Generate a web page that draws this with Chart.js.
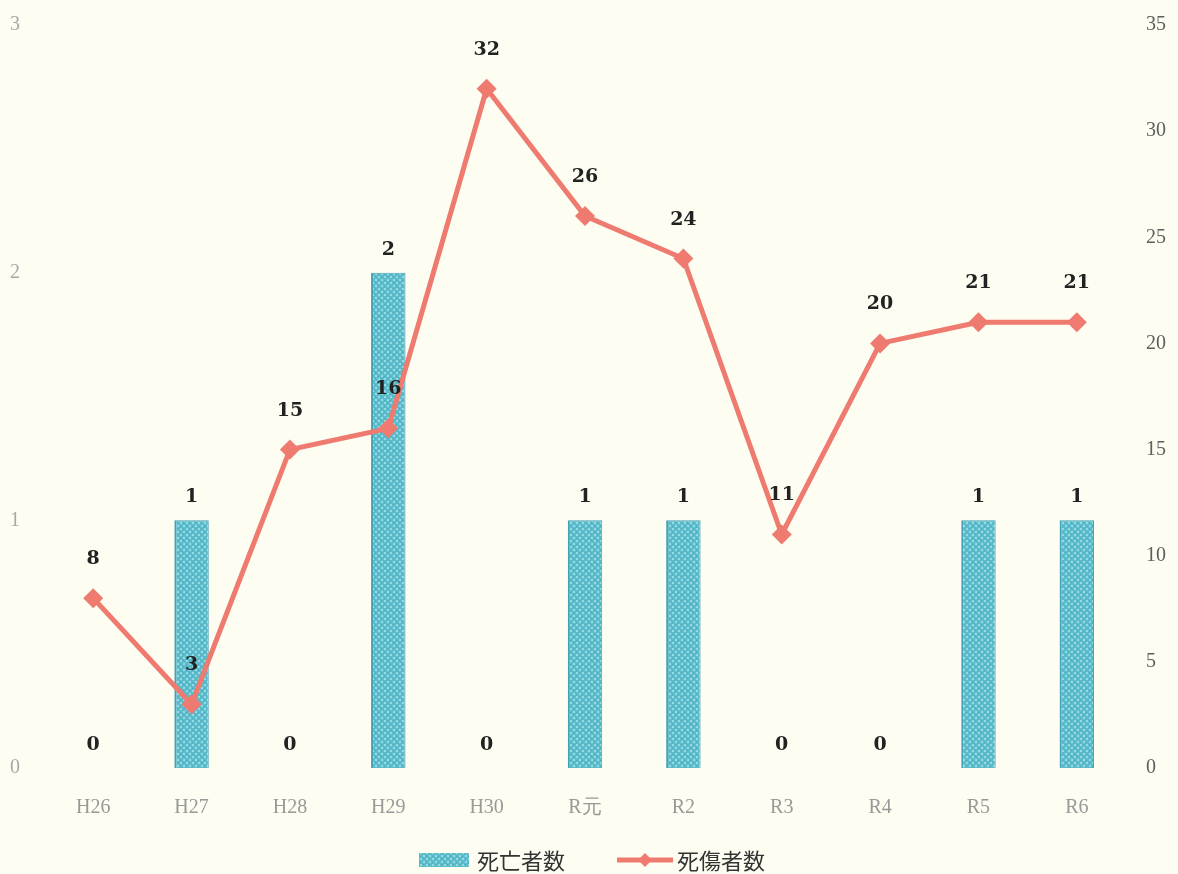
<!DOCTYPE html>
<html>
<head>
<meta charset="utf-8">
<script src="https://cdn.jsdelivr.net/npm/chart.js@4"></script>
<style>
  html, body { margin: 0; padding: 0; background: #fdfdf1; }
  #wrap { width: 1178px; height: 874px; }
</style>
</head>
<body>
<div id="wrap"><canvas id="chart" width="1178" height="874"></canvas></div>
<script>
'use strict';

// Fiscal years (Heisei / Reiwa)
var years = ['H26', 'H27', 'H28', 'H29', 'H30', 'R元', 'R2', 'R3', 'R4', 'R5', 'R6'];
// 死亡者数 (left axis)
var deaths = [0, 1, 0, 2, 0, 1, 1, 0, 0, 1, 1];
// 死傷者数 (right axis)
var casualties = [8, 3, 15, 16, 32, 26, 24, 11, 20, 21, 21];
// Legend entries, in the order they are shown
var legendNames = ['死亡者数', '死傷者数'];

var barColor = '#5bbccb';
var lineColor = '#ee7a70';
var labelFont = 'bold 19px "DejaVu Serif", "Liberation Serif", serif';
var legendFont = '22px "Noto Sans CJK JP", sans-serif';
var tickFont = { family: '"Liberation Serif", "DejaVu Serif", serif', size: 20 };

//
// Stippled fill used for the bars, like the printed screen tone.
//
function stipple(ctx) {
  var c = document.createElement('canvas');
  c.width = 6; c.height = 6;
  var g = c.getContext('2d');
  g.fillStyle = barColor;
  g.fillRect(0, 0, 6, 6);
  g.fillStyle = '#98d9e1';
  g.fillRect(0, 0, 2, 2);
  g.fillRect(3, 3, 2, 2);
  g.fillStyle = '#45a5ba';
  g.fillRect(3, 0, 1, 1);
  g.fillRect(0, 4, 1, 1);
  return (ctx || g).createPattern(c, 'repeat');
}

//
// Fix an axis to a width and drop the label overhang padding,
// so the plot area lands where the printed one does.
//
function fitY(width) {
  return function (scale) {
    scale.width = width;
    scale.paddingTop = 0;
    scale.paddingBottom = 0;
  };
}

//
// Value labels above every bar and every line point.
//
var valueLabels = {
  id: 'valueLabels',
  afterDatasetsDraw: function (chart) {
    var ctx = chart.ctx;
    ctx.save();
    ctx.font = labelFont;
    ctx.fillStyle = '#222';
    ctx.textAlign = 'center';
    ctx.textBaseline = 'alphabetic';
    chart.data.datasets.forEach(function (ds, i) {
      var meta = chart.getDatasetMeta(i);
      var lift = ds.type === 'line' ? 34 : 18;
      meta.data.forEach(function (el, j) {
        ctx.fillText(String(ds.data[j]), el.x, el.y - lift);
      });
    });
    ctx.restore();
  }
};

//
// Bottom legend: a toned bar swatch and a line with a diamond.
//
var swatchLegend = {
  id: 'swatchLegend',
  afterDraw: function (chart) {
    var ctx = chart.ctx
      , y = 860
      , barW = 50, lineW = 56;

    ctx.save();
    ctx.font = legendFont;
    var w0 = ctx.measureText(legendNames[0]).width
      , w1 = ctx.measureText(legendNames[1]).width
      , total = barW + 8 + w0 + 52 + lineW + 4 + w1
      , x = 592 - total / 2;

    ctx.fillStyle = stipple(ctx);
    ctx.fillRect(x, y - 7, barW, 14);
    ctx.fillStyle = '#333';
    ctx.textBaseline = 'middle';
    ctx.fillText(legendNames[0], x + barW + 8, y + 1);

    x += barW + 8 + w0 + 52;
    ctx.strokeStyle = lineColor;
    ctx.lineWidth = 5;
    ctx.beginPath();
    ctx.moveTo(x, y); ctx.lineTo(x + lineW, y);
    ctx.stroke();
    ctx.fillStyle = lineColor;
    ctx.beginPath();
    var cx = x + lineW / 2;
    ctx.moveTo(cx, y - 7); ctx.lineTo(cx + 7, y); ctx.lineTo(cx, y + 7); ctx.lineTo(cx - 7, y);
    ctx.closePath();
    ctx.fill();
    ctx.fillStyle = '#333';
    ctx.fillText(legendNames[1], x + lineW + 4, y + 1);
    ctx.restore();
  }
};

new Chart(document.getElementById('chart'), {
  data: {
    labels: years,
    datasets: [{
      type: 'line',
      label: legendNames[1],
      data: casualties,
      yAxisID: 'y1',
      borderColor: lineColor,
      backgroundColor: lineColor,
      borderWidth: 5,
      tension: 0,
      pointStyle: 'rectRot',
      pointRadius: 10,
      pointHoverRadius: 10,
      pointBorderWidth: 0,
      clip: false,
      order: 1
    }, {
      type: 'bar',
      label: legendNames[0],
      data: deaths,
      yAxisID: 'y',
      backgroundColor: stipple(),
      borderColor: '#449fb7',
      borderWidth: { left: 2, right: 1, top: 1, bottom: 0 },
      barPercentage: 0.35,
      categoryPercentage: 1,
      order: 2
    }]
  },
  options: {
    responsive: false,
    animation: false,
    layout: { padding: { top: 25, left: 0, right: 0, bottom: 0 } },
    plugins: {
      tooltip: { enabled: false },
      legend: { display: false }
    },
    scales: {
      x: {
        grid: { display: false },
        border: { display: false },
        ticks: { color: '#999', font: tickFont, padding: 20 },
        afterFit: function (scale) { scale.height = 106; }
      },
      y: {
        position: 'left',
        min: 0, max: 3,
        grid: { display: false },
        border: { display: false },
        ticks: { stepSize: 1, color: '#a8a8a8', font: tickFont, padding: 16 },
        afterFit: fitY(44)
      },
      y1: {
        position: 'right',
        min: 0, max: 35,
        grid: { display: false },
        border: { display: false },
        ticks: { stepSize: 5, color: '#5e5e5e', font: tickFont, padding: 12 },
        afterFit: fitY(52)
      }
    }
  },
  plugins: [valueLabels, swatchLegend]
});
</script>
</body>
</html>
